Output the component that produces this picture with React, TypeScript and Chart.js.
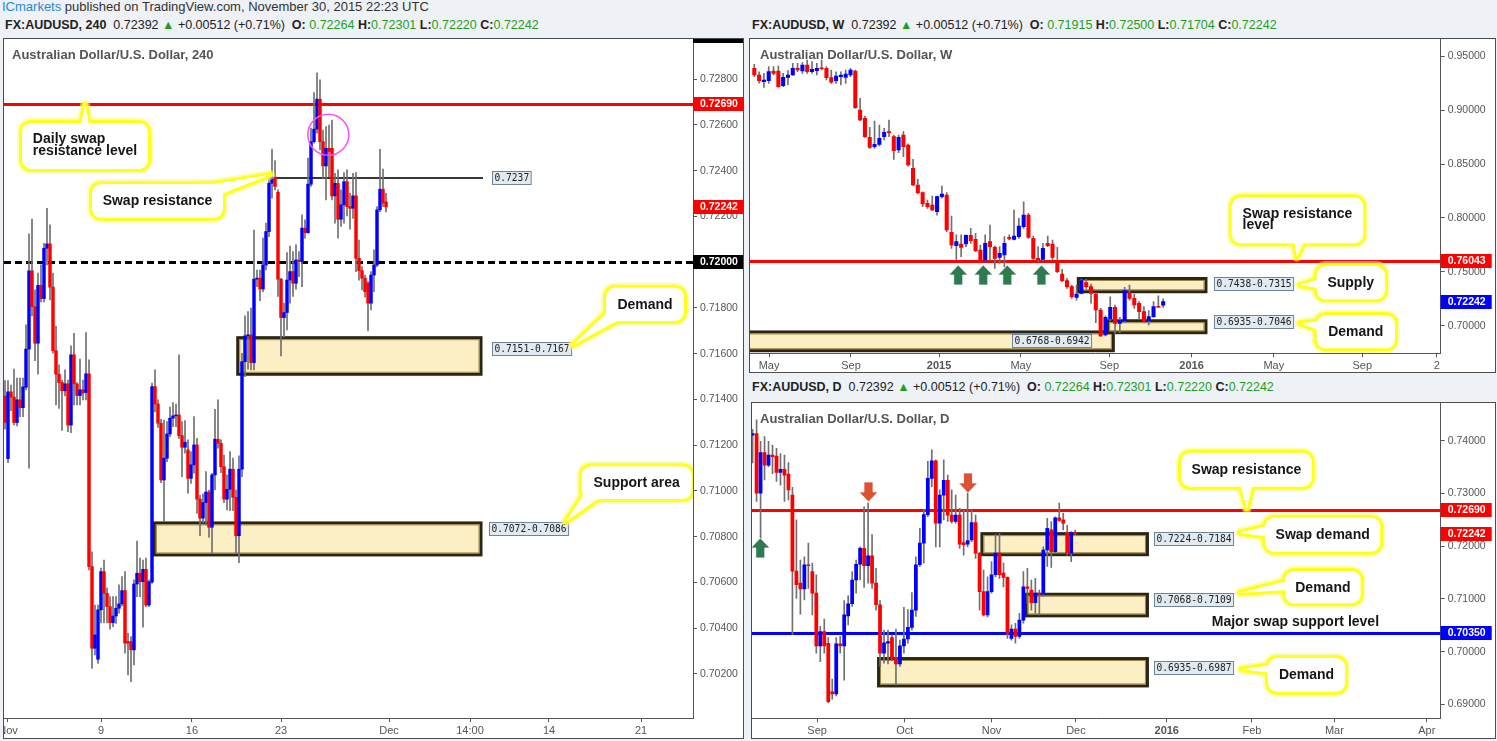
import React, { useEffect, useRef } from 'react';
import { Chart, registerables } from 'chart.js';

Chart.register(...registerables);

const UP = '#0000ff';
const DOWN = '#ff0000';
const WICK = '#707070';
const AXIS = '#555555';
const FONT = "'Liberation Sans', Arial, sans-serif";
const GREEN = '#1f9f1f';

// ---------------- 4h (240) data ----------------
const H4_OPEN = [0.71415,0.71141,0.71433,0.71410,0.71299,0.71398,0.71364,0.71453,0.71620,0.71962,
 0.71806,0.71646,0.71899,0.71841,0.72061,0.72080,0.71891,0.71613,0.71510,0.71474,
 0.71438,0.71468,0.71288,0.71595,0.71468,0.71417,0.71442,0.71430,0.71512,0.70669,
 0.70312,0.70264,0.70480,0.70647,0.70552,0.70494,0.70424,0.70453,0.70487,0.70506,
 0.70564,0.70341,0.70341,0.70305,0.70593,0.70640,0.70603,0.70657,0.70501,0.70601,
 0.71456,0.71380,0.71296,0.71048,0.71143,0.71249,0.71318,0.71328,0.71332,0.71242,
 0.71191,0.71179,0.71055,0.71114,0.71201,0.70964,0.70881,0.70949,0.70995,0.70841,
 0.71070,0.71226,0.71208,0.71106,0.70964,0.71007,0.71095,0.70972,0.70804,0.71095,
 0.71565,0.71678,0.71682,0.71561,0.71926,0.71930,0.71883,0.71988,0.72134,0.72345,
 0.72372,0.72306,0.71926,0.71758,0.71780,0.71922,0.71959,0.71908,0.72010,0.72003,
 0.72149,0.72129,0.72341,0.72527,0.72582,0.72713,0.72527,0.72421,0.72498,0.72498,
 0.72290,0.72345,0.72188,0.72251,0.72352,0.72243,0.72236,0.72290,0.72017,0.71963,
 0.71930,0.71908,0.71821,0.71944,0.71988,0.72229,0.72319,0.72264];
const H4_HIGH = [0.71482,0.71482,0.71463,0.71533,0.71493,0.71493,0.71493,0.71726,0.72124,0.72189,
 0.71879,0.71952,0.71988,0.72083,0.72236,0.72163,0.71952,0.71721,0.71551,0.71485,
 0.71529,0.71485,0.71634,0.71689,0.71474,0.71576,0.71485,0.71692,0.71573,0.70734,
 0.70501,0.70501,0.70663,0.70698,0.70576,0.70538,0.70538,0.70538,0.70589,0.70625,
 0.70647,0.70378,0.70363,0.70611,0.70781,0.70706,0.70698,0.70706,0.70611,0.71471,
 0.71529,0.71398,0.71313,0.71310,0.71303,0.71366,0.71386,0.71380,0.71595,0.71303,
 0.71307,0.71223,0.71172,0.71325,0.71230,0.70982,0.70987,0.71084,0.71004,0.71077,
 0.71357,0.71398,0.71223,0.71157,0.71070,0.71172,0.71143,0.71004,0.71153,0.71602,
 0.71765,0.71784,0.71799,0.72141,0.71966,0.71966,0.72105,0.72171,0.72367,0.72494,
 0.72444,0.72316,0.71930,0.71821,0.72042,0.72071,0.72046,0.72076,0.72046,0.72207,
 0.72185,0.72455,0.72586,0.72742,0.72828,0.72797,0.72578,0.72593,0.72600,0.72622,
 0.72389,0.72404,0.72316,0.72392,0.72404,0.72302,0.72389,0.72392,0.72097,0.71981,
 0.71944,0.71915,0.71959,0.72054,0.72243,0.72494,0.72407,0.72301];
const H4_LOW = [0.71270,0.71124,0.71351,0.71289,0.71284,0.71325,0.71325,0.71442,0.71099,0.71765,
 0.71570,0.71510,0.71826,0.71826,0.71988,0.71835,0.71602,0.71376,0.71361,0.71264,
 0.71415,0.71259,0.71255,0.71376,0.71376,0.71376,0.71398,0.71398,0.70654,0.70224,
 0.70283,0.70246,0.70423,0.70423,0.70423,0.70395,0.70406,0.70421,0.70465,0.70497,
 0.70290,0.70195,0.70166,0.70239,0.70538,0.70538,0.70404,0.70494,0.70494,0.70596,
 0.71345,0.71278,0.71036,0.70866,0.71128,0.71237,0.71281,0.71281,0.71230,0.71062,
 0.71165,0.70990,0.71033,0.71077,0.70902,0.70804,0.70859,0.70851,0.70797,0.70727,
 0.71004,0.71187,0.71080,0.70949,0.70917,0.70914,0.70914,0.70727,0.70686,0.71062,
 0.71500,0.71532,0.71529,0.71529,0.71893,0.71832,0.71871,0.71966,0.72112,0.72280,
 0.72316,0.71850,0.71590,0.71672,0.71704,0.71821,0.71850,0.71882,0.71937,0.71893,
 0.72105,0.72127,0.72331,0.72520,0.72564,0.72491,0.72367,0.72272,0.72374,0.72272,
 0.72171,0.72105,0.72156,0.72171,0.72202,0.72144,0.72192,0.71959,0.71922,0.71879,
 0.71847,0.71701,0.71791,0.71871,0.71981,0.72221,0.72243,0.72220];
const H4_CLOSE = [0.71299,0.71433,0.71410,0.71299,0.71398,0.71364,0.71455,0.71620,0.71962,0.71806,
 0.71646,0.71899,0.71841,0.72061,0.72080,0.71891,0.71613,0.71510,0.71474,0.71438,
 0.71468,0.71288,0.71595,0.71468,0.71417,0.71442,0.71428,0.71512,0.70669,0.70312,
 0.70370,0.70480,0.70647,0.70552,0.70494,0.70424,0.70453,0.70487,0.70506,0.70564,
 0.70334,0.70334,0.70305,0.70593,0.70640,0.70603,0.70657,0.70501,0.70603,0.71456,
 0.71380,0.71296,0.71048,0.71143,0.71249,0.71318,0.71328,0.71332,0.71242,0.71191,
 0.71213,0.71055,0.71114,0.71201,0.70964,0.70881,0.70949,0.70995,0.70841,0.71070,
 0.71226,0.71208,0.71106,0.70964,0.71007,0.71095,0.70972,0.70804,0.71095,0.71565,
 0.71678,0.71682,0.71561,0.71926,0.71930,0.71883,0.71988,0.72134,0.72345,0.72372,
 0.72331,0.71926,0.71758,0.71780,0.71922,0.71959,0.71908,0.72010,0.72003,0.72149,
 0.72129,0.72341,0.72527,0.72582,0.72713,0.72527,0.72421,0.72498,0.72484,0.72290,
 0.72345,0.72188,0.72251,0.72352,0.72243,0.72236,0.72290,0.72017,0.71963,0.71930,
 0.71871,0.71821,0.71944,0.71988,0.72229,0.72319,0.72258,0.72242];
const H4_TICK_POS = [1, 32, 62.33, 92, 128, 155, 181.33, 212];
const H4_TICK_LABELS = ['Nov', '9', '16', '23', 'Dec', '14:00', '14', '21'];
const H4_PRICE_TICKS = [0.702, 0.704, 0.706, 0.708, 0.710, 0.712, 0.714, 0.716, 0.718, 0.720, 0.722, 0.724, 0.726, 0.728];

// ---------------- Weekly data ----------------
const W_OPEN = [0.9387,0.9326,0.9264,0.9273,0.9363,0.9363,0.9227,0.9304,0.9326,0.9387,
 0.9363,0.9418,0.9357,0.9366,0.9387,0.9387,0.9301,0.9273,0.9310,0.9304,
 0.9326,0.9363,0.9001,0.8924,0.8747,0.8661,0.8682,0.8754,0.8800,0.8754,
 0.8630,0.8769,0.8676,0.8460,0.8305,0.8234,0.8135,0.8120,0.8057,0.8197,
 0.8212,0.7866,0.7742,0.7758,0.7758,0.7838,0.7801,0.7702,0.7609,0.7780,
 0.7727,0.7634,0.7656,0.7820,0.7801,0.7826,0.7918,0.8026,0.7810,0.7625,
 0.7616,0.7764,0.7758,0.7603,0.7480,0.7418,0.7362,0.7263,0.7300,0.7399,
 0.7362,0.7294,0.7146,0.6914,0.7062,0.7170,0.7022,0.7047,0.7306,0.7254,
 0.7208,0.7130,0.7047,0.7084,0.7177,0.71915];
const W_HIGH = [0.9424,0.9356,0.9341,0.9403,0.9403,0.9409,0.9341,0.9366,0.9434,0.9434,
 0.9440,0.9465,0.9449,0.9434,0.9465,0.9403,0.9372,0.9356,0.9356,0.9372,
 0.9387,0.9372,0.9109,0.8945,0.8840,0.8899,0.8862,0.8831,0.8908,0.8769,
 0.8769,0.8800,0.8686,0.8543,0.8358,0.8243,0.8166,0.8203,0.8203,0.8296,
 0.8234,0.8017,0.7842,0.7842,0.7842,0.7903,0.7857,0.7749,0.7842,0.7934,
 0.7739,0.7733,0.7826,0.7842,0.8073,0.7996,0.8150,0.8042,0.7832,0.7733,
 0.7764,0.7832,0.7795,0.7727,0.7523,0.7439,0.7378,0.7378,0.7430,0.7430,
 0.7387,0.7306,0.7161,0.7091,0.7269,0.7192,0.7078,0.7356,0.7378,0.7294,
 0.7223,0.7177,0.7140,0.7223,0.7276,0.72500];
const W_LOW = [0.9310,0.9250,0.9211,0.9248,0.9326,0.9211,0.9217,0.9233,0.9319,0.9356,
 0.9341,0.9341,0.9341,0.9326,0.9372,0.9279,0.9248,0.9248,0.9233,0.9248,
 0.9310,0.9016,0.8902,0.8747,0.8645,0.8645,0.8667,0.8723,0.8754,0.8543,
 0.8605,0.8568,0.8481,0.8299,0.8222,0.8104,0.8089,0.8067,0.8026,0.8182,
 0.7872,0.7718,0.7616,0.7640,0.7733,0.7764,0.7687,0.7594,0.7603,0.7609,
 0.7532,0.7578,0.7548,0.7795,0.7795,0.7810,0.7903,0.7810,0.7616,0.7594,
 0.7603,0.7733,0.7610,0.7492,0.7409,0.7347,0.7254,0.7238,0.7294,0.7347,
 0.7208,0.7028,0.6898,0.6905,0.7047,0.6929,0.6935,0.7028,0.7238,0.7161,
 0.7059,0.7028,0.7007,0.7077,0.7170,0.71704];
const W_CLOSE = [0.9326,0.9273,0.9279,0.9357,0.9341,0.9217,0.9304,0.9326,0.9387,0.9372,
 0.9418,0.9357,0.9378,0.9387,0.9384,0.9301,0.9258,0.9316,0.9326,0.9335,
 0.9372,0.9023,0.8908,0.8753,0.8655,0.8682,0.8738,0.8794,0.8791,0.8624,
 0.8747,0.8661,0.8491,0.8305,0.8234,0.8129,0.8104,0.8073,0.8197,0.8222,
 0.7888,0.7749,0.7780,0.7727,0.7838,0.7789,0.7696,0.7603,0.7764,0.7733,
 0.7625,0.7671,0.7764,0.7804,0.7832,0.7925,0.8026,0.7820,0.7625,0.7610,
 0.7718,0.7742,0.7634,0.7501,0.7418,0.7362,0.7269,0.7294,0.7418,0.7362,
 0.7300,0.7146,0.6905,0.7078,0.7170,0.7022,0.7047,0.7325,0.7254,0.7192,
 0.7130,0.7047,0.7084,0.7177,0.7171,0.72242];
const W_TICK_POS = [3.06, 20.1, 38.4, 55.4, 73.8, 90.9, 108.0, 126.4, 141.9];
const W_TICK_LABELS = ['May', 'Sep', '2015', 'May', 'Sep', '2016', 'May', 'Sep', '2'];
const W_PRICE_TICKS = [0.70, 0.75, 0.80, 0.85, 0.90, 0.95];

// ---------------- Daily data ----------------
const D_OPEN = [0.7411,0.7414,0.7301,0.7378,0.7354,0.7373,0.7371,0.7340,0.7346,0.7337,
 0.7297,0.7153,0.7130,0.7119,0.7165,0.7152,0.7111,0.7011,0.7038,0.7016,
 0.6924,0.6920,0.7015,0.7011,0.7068,0.7091,0.7136,0.7166,0.7196,0.7163,
 0.7182,0.7130,0.7089,0.6997,0.7016,0.7027,0.6987,0.6977,0.7011,0.7024,
 0.7046,0.7079,0.7165,0.7206,0.7260,0.7329,0.7362,0.7244,0.7297,0.7325,
 0.7259,0.7247,0.7259,0.7207,0.7204,0.7212,0.7245,0.7187,0.7114,0.7070,
 0.7114,0.7146,0.7187,0.7149,0.7141,0.7025,0.7043,0.7029,0.7060,0.7123,
 0.7117,0.7093,0.7111,0.7109,0.7193,0.7231,0.7190,0.7254,0.7250,0.7226,
 0.7187,0.72264];
const D_HIGH = [0.7422,0.7440,0.7399,0.7408,0.7399,0.7392,0.7386,0.7376,0.7373,0.7359,
 0.7312,0.7250,0.7174,0.7180,0.7206,0.7168,0.7146,0.7048,0.7062,0.7027,
 0.6948,0.7027,0.7029,0.7097,0.7106,0.7152,0.7174,0.7199,0.7275,0.7282,
 0.7222,0.7158,0.7097,0.7041,0.7041,0.7032,0.7043,0.7022,0.7084,0.7080,
 0.7112,0.7180,0.7234,0.7269,0.7361,0.7383,0.7364,0.7307,0.7364,0.7335,
 0.7307,0.7297,0.7272,0.7269,0.7307,0.7269,0.7259,0.7188,0.7155,0.7142,
 0.7171,0.7222,0.7224,0.7168,0.7142,0.7051,0.7054,0.7073,0.7152,0.7158,
 0.7136,0.7139,0.7117,0.7199,0.7253,0.7247,0.7256,0.7282,0.7263,0.7240,
 0.7228,0.72301];
const D_LOW = [0.7358,0.7285,0.7215,0.7326,0.7351,0.7338,0.7323,0.7316,0.7285,0.7288,
 0.7032,0.7101,0.7071,0.7098,0.7120,0.7070,0.6997,0.6981,0.6997,0.6903,
 0.6910,0.6916,0.6997,0.6946,0.7051,0.7086,0.7111,0.7136,0.7122,0.7130,
 0.7120,0.7079,0.6972,0.6978,0.6977,0.6983,0.6937,0.6972,0.6997,0.7016,
 0.7041,0.7067,0.7162,0.7168,0.7256,0.7313,0.7199,0.7199,0.7250,0.7247,
 0.7244,0.7244,0.7196,0.7183,0.7199,0.7209,0.7177,0.7079,0.7068,0.7066,
 0.7111,0.7142,0.7139,0.7123,0.7025,0.7022,0.7016,0.7025,0.7054,0.7092,
 0.7079,0.7073,0.7070,0.7105,0.7162,0.7160,0.7188,0.7247,0.7231,0.7183,
 0.7171,0.72220];
const D_CLOSE = [0.7414,0.7301,0.7378,0.7354,0.7373,0.7370,0.7340,0.7346,0.7335,0.7307,
 0.7153,0.7127,0.7119,0.7165,0.7163,0.7111,0.7011,0.7038,0.7011,0.6905,
 0.6920,0.7015,0.7011,0.7070,0.7091,0.7136,0.7166,0.7196,0.7163,0.7182,
 0.7130,0.7089,0.6997,0.7017,0.7019,0.6987,0.6977,0.7011,0.7024,0.7046,
 0.7079,0.7165,0.7206,0.7260,0.7329,0.7362,0.7244,0.7297,0.7325,0.7259,
 0.7247,0.7259,0.7204,0.7203,0.7211,0.7245,0.7187,0.7114,0.7070,0.7114,
 0.7146,0.7187,0.7146,0.7141,0.7035,0.7043,0.7029,0.7060,0.7123,0.7120,
 0.7093,0.7111,0.7109,0.7193,0.7234,0.7190,0.7254,0.7249,0.7244,0.7187,
 0.7226,0.72242];
const D_TICK_POS = [16.2, 38.2, 60, 81.2, 104, 125.4, 146.1, 169.3];
const D_TICK_LABELS = ['Sep', 'Oct', 'Nov', 'Dec', '2016', 'Feb', 'Mar', 'Apr'];
const D_PRICE_TICKS = [0.69, 0.70, 0.71, 0.72, 0.73, 0.74];

// ---------------- annotations ----------------
type Callout = { lines: string[]; x1: number; x2: number; top: number; bottom: number; tipX: number; tipY: number; base: number[][] };

const H4_ANN = {
  title: 'Australian Dollar/U.S. Dollar, 240', titleX: 8,
  zones: [
    { x1: 77.57, x2: 158.67, lo: 0.7151, hi: 0.7167 },
    { x1: 49.77, x2: 158.67, lo: 0.7072, hi: 0.7086 },
  ],
  lines: [
    { value: 0.7269, color: '#ff0000', width: 3 },
    { value: 0.72, color: '#000000', width: 3, dash: [7, 4] },
    { value: 0.7237, color: '#383838', width: 2, x1: 85.67, x2: 159.33 },
  ],
  labels: [
    { x: 162.23, y: 0.7237, text: '0.7237' },
    { x: 162.23, y: 0.71622, text: '0.7151-0.7167' },
    { x: 161.33, y: 0.70836, text: '0.7072-0.7086' },
  ],
  callouts: [
    { lines: ['Daily swap', 'resistance level'], x1: 5.67, x2: 47.67, top: 0.72609, bottom: 0.72408, tipX: 26.67, tipY: 0.72688, base: [[0.44, 0], [0.56, 0]] },
    { lines: ['Swap resistance'], x1: 29, x2: 72.67, top: 0.72342, bottom: 0.72194, tipX: 88.33, tipY: 0.72382, base: [[0.86, 0], [1, 0.35]] },
    { lines: ['Demand'], x1: 200.33, x2: 226.33, top: 0.71888, bottom: 0.71743, tipX: 189.43, tipY: 0.71639, base: [[0, 0.55], [0.15, 1]] },
    { lines: ['Support area'], x1: 192.23, x2: 228.9, top: 0.71108, bottom: 0.70965, tipX: 187, tipY: 0.70867, base: [[0, 0.6], [0.12, 1]] },
  ] as Callout[],
  arrows: [] as any[],
  circles: [{ x: 107.77, y: 0.72557, r: 20.5, color: '#ff4dff' }],
  texts: [] as any[],
  tags: [
    { value: 0.7269, bg: '#ff0000' },
    { value: 0.72242, bg: '#ff0000' },
    { value: 0.72, bg: '#000000' },
  ],
  topBar: true,
};

const W_ANN = {
  title: 'Australian Dollar/U.S. Dollar, W', titleX: 10,
  zones: [
    { x1: -3, x2: 74.64, lo: 0.6768, hi: 0.6942 },
    { x1: 67.36, x2: 93.9, lo: 0.7315, hi: 0.7438 },
    { x1: 73.47, x2: 93.9, lo: 0.6935, hi: 0.7046 },
  ],
  lines: [{ value: 0.76043, color: '#ff0000', width: 3 }],
  labels: [
    { x: 95.57, y: 0.73896, text: '0.7438-0.7315' },
    { x: 95.57, y: 0.70417, text: '0.6935-0.7046' },
    { x: 53.51, y: 0.68599, text: '0.6768-0.6942' },
  ],
  callouts: [
    { lines: ['Swap resistance', 'level'], x1: 99.25, x2: 126.6, top: 0.81911, bottom: 0.77644, tipX: 112.8, tipY: 0.76401, base: [[0.45, 1], [0.6, 1]] },
    { lines: ['Supply'], x1: 116.9, x2: 131.1, top: 0.75538, bottom: 0.72449, tipX: 113.4, tipY: 0.73776, base: [[0, 0.3], [0, 0.75]] },
    { lines: ['Demand'], x1: 116.9, x2: 133.2, top: 0.70993, bottom: 0.67903, tipX: 113.4, tipY: 0.70223, base: [[0, 0.1], [0, 0.5]] },
  ] as Callout[],
  arrows: [
    { x: 42.4, y: 0.75631, dir: 'up', color: '#2e7b4f' },
    { x: 47.6, y: 0.75631, dir: 'up', color: '#2e7b4f' },
    { x: 52.6, y: 0.75631, dir: 'up', color: '#2e7b4f' },
    { x: 59.7, y: 0.75631, dir: 'up', color: '#2e7b4f' },
  ],
  circles: [] as any[],
  texts: [] as any[],
  tags: [
    { value: 0.76043, bg: '#ff0000' },
    { value: 0.72242, bg: '#0000ff' },
  ],
  topBar: false,
};

const D_ANN = {
  title: 'Australian Dollar/U.S. Dollar, D', titleX: 8,
  zones: [
    { x1: 57.58, x2: 99.15, lo: 0.7184, hi: 0.7224 },
    { x1: 68.7, x2: 99.15, lo: 0.7068, hi: 0.7109 },
    { x1: 31.63, x2: 99.15, lo: 0.6935, hi: 0.6987 },
  ],
  lines: [
    { value: 0.7269, color: '#ff0000', width: 3 },
    { value: 0.7035, color: '#0000ff', width: 3 },
  ],
  labels: [
    { x: 100.9, y: 0.72152, text: '0.7224-0.7184' },
    { x: 100.9, y: 0.7099, text: '0.7068-0.7109' },
    { x: 100.9, y: 0.6970, text: '0.6935-0.6987' },
  ],
  callouts: [
    { lines: ['Swap resistance'], x1: 107.6, x2: 140.4, top: 0.73776, bottom: 0.73131, tipX: 124.1, tipY: 0.72721, base: [[0.41, 1], [0.59, 1]] },
    { lines: ['Swap demand'], x1: 128.7, x2: 157.6, top: 0.72543, bottom: 0.71898, tipX: 122.4, tipY: 0.72258, base: [[0, 0.15], [0, 0.6]] },
    { lines: ['Demand'], x1: 133.7, x2: 152.7, top: 0.71531, bottom: 0.70918, tipX: 122.4, tipY: 0.7112, base: [[0, 0.2], [0, 0.6]] },
    { lines: ['Demand'], x1: 129.4, x2: 148.8, top: 0.6988, bottom: 0.6924, tipX: 122.8, tipY: 0.69666, base: [[0, 0.12], [0, 0.45]] },
  ] as Callout[],
  arrows: [
    { x: 1.93, y: 0.72158, dir: 'up', color: '#2e7b4f' },
    { x: 29.1, y: 0.72841, dir: 'down', color: '#dc5236' },
    { x: 54.1, y: 0.73011, dir: 'down', color: '#dc5236' },
  ],
  circles: [] as any[],
  texts: [{ x: 115.3, y: 0.70558, text: 'Major swap support level' }],
  tags: [
    { value: 0.7269, bg: '#ff0000' },
    { value: 0.72242, bg: '#ff0000' },
    { value: 0.7035, bg: '#0000ff' },
  ],
  topBar: false,
};

// ---------------- drawing helpers ----------------
function roundRectPath(ctx: CanvasRenderingContext2D, x: number, y: number, w: number, h: number, r: number) {
  ctx.moveTo(x + r, y);
  ctx.lineTo(x + w - r, y);
  ctx.arcTo(x + w, y, x + w, y + r, r);
  ctx.lineTo(x + w, y + h - r);
  ctx.arcTo(x + w, y + h, x + w - r, y + h, r);
  ctx.lineTo(x + r, y + h);
  ctx.arcTo(x, y + h, x, y + h - r, r);
  ctx.lineTo(x, y + r);
  ctx.arcTo(x, y, x + r, y, r);
  ctx.closePath();
}

function drawCallout(ctx: CanvasRenderingContext2D, X: (v: number) => number, Y: (v: number) => number, c: Callout) {
  const x1 = X(c.x1), x2 = X(c.x2), y1 = Y(c.top), y2 = Y(c.bottom);
  const w = x2 - x1, h = y2 - y1;
  const cx = (x1 + x2) / 2, cy = (y1 + y2) / 2;
  const tx = X(c.tipX), ty = Y(c.tipY);
  const base = c.base.map(([fx, fy]) => {
    const px = x1 + fx * w, py = y1 + fy * h;
    const dx = cx - px, dy = cy - py, d = Math.hypot(dx, dy) || 1;
    return [px + (dx / d) * 8, py + (dy / d) * 8];
  });
  const tri = () => {
    ctx.beginPath();
    ctx.moveTo(base[0][0], base[0][1]);
    ctx.lineTo(tx, ty);
    ctx.lineTo(base[1][0], base[1][1]);
    ctx.closePath();
  };
  const box = () => { ctx.beginPath(); roundRectPath(ctx, x1, y1, w, h, 9); };
  ctx.save();
  ctx.lineJoin = 'round';
  for (const [lw, col] of [[10, 'rgba(250,250,130,0.55)'], [6, '#ffff1a']] as [number, string][]) {
    ctx.lineWidth = lw; ctx.strokeStyle = col;
    box(); ctx.stroke();
    tri(); ctx.stroke();
  }
  ctx.fillStyle = '#ffffff';
  box(); ctx.fill();
  tri(); ctx.fill();
  ctx.fillStyle = '#161616';
  ctx.font = `bold 14px ${FONT}`;
  ctx.textBaseline = 'middle';
  ctx.textAlign = 'left';
  const widths = c.lines.map((l) => ctx.measureText(l).width);
  const bw = Math.max(...widths);
  const left = cx - bw / 2;
  if (c.lines.length === 1) {
    ctx.fillText(c.lines[0], left, cy + 0.5);
  } else {
    ctx.fillText(c.lines[0], left, cy - 6.5);
    ctx.fillText(c.lines[1], left, cy + 5);
  }
  ctx.restore();
}

function drawArrow(ctx: CanvasRenderingContext2D, x: number, y: number, dir: string, color: string) {
  const hw = 9.5, hh = 10, sw = 4.5, h = 20;
  const s = dir === 'up' ? 1 : -1;
  ctx.save();
  ctx.beginPath();
  ctx.moveTo(x, y);
  ctx.lineTo(x + hw, y + s * hh);
  ctx.lineTo(x + sw, y + s * hh);
  ctx.lineTo(x + sw, y + s * h);
  ctx.lineTo(x - sw, y + s * h);
  ctx.lineTo(x - sw, y + s * hh);
  ctx.lineTo(x - hw, y + s * hh);
  ctx.closePath();
  ctx.fillStyle = color;
  ctx.fill();
  ctx.strokeStyle = 'rgba(255,255,255,0.75)';
  ctx.lineWidth = 1;
  ctx.stroke();
  ctx.restore();
}

function makeOverlay(ann: any) {
  const scalesOf = (chart: any) => {
    const X = (v: number) => chart.scales.x.getPixelForValue(v);
    const Y = (v: number) => chart.scales.y.getPixelForValue(v);
    return { X, Y };
  };
  return {
    id: 'overlay',
    beforeDatasetsDraw(chart: any) {
      const { ctx, chartArea: a } = chart;
      const { X, Y } = scalesOf(chart);
      ctx.save();
      ctx.beginPath();
      ctx.rect(a.left, a.top, a.right - a.left, a.bottom - a.top);
      ctx.clip();
      for (const z of ann.zones) {
        const x1 = X(z.x1), x2 = X(z.x2), yt = Y(z.hi), yb = Y(z.lo);
        ctx.fillStyle = '#fdefc4';
        ctx.fillRect(x1, yt, x2 - x1, yb - yt);
        ctx.lineWidth = 3;
        ctx.strokeStyle = '#2b2512';
        ctx.strokeRect(x1, yt, x2 - x1, yb - yt);
        ctx.lineWidth = 1;
        ctx.strokeStyle = '#9a8447';
        ctx.strokeRect(x1 + 2, yt + 2, x2 - x1 - 4, yb - yt - 4);
      }
      for (const l of ann.lines) {
        const yy = Math.round(Y(l.value)) + (l.width % 2 ? 0.5 : 0);
        ctx.beginPath();
        ctx.setLineDash(l.dash || []);
        ctx.strokeStyle = l.color;
        ctx.lineWidth = l.width;
        ctx.moveTo(l.x1 === undefined ? a.left : X(l.x1), yy);
        ctx.lineTo(l.x2 === undefined ? a.right : X(l.x2), yy);
        ctx.stroke();
      }
      ctx.restore();
    },
    afterDatasetsDraw(chart: any) {
      const { ctx, chartArea: a } = chart;
      const { X, Y } = scalesOf(chart);
      ctx.save();
      ctx.beginPath();
      ctx.rect(a.left, a.top, a.right - a.left, a.bottom - a.top);
      ctx.clip();
      ctx.font = `bold 13px ${FONT}`;
      ctx.fillStyle = '#555555';
      ctx.textBaseline = 'middle';
      ctx.textAlign = 'left';
      ctx.fillText(ann.title, a.left + ann.titleX, a.top + 16);
      for (const c of ann.circles) {
        ctx.beginPath();
        ctx.arc(X(c.x), Y(c.y), c.r, 0, Math.PI * 2);
        ctx.strokeStyle = c.color;
        ctx.lineWidth = 1.5;
        ctx.stroke();
      }
      for (const ar of ann.arrows) drawArrow(ctx, X(ar.x), Y(ar.y), ar.dir, ar.color);
      for (const l of ann.labels) {
        ctx.font = `9.6px 'DejaVu Sans Mono', monospace`;
        const tw = ctx.measureText(l.text).width;
        const bx = Math.round(X(l.x)) + 0.5;
        const by = Math.round(Y(l.y) - 6.5) + 0.5;
        ctx.fillStyle = '#e1eaf1';
        ctx.fillRect(bx, by, tw + 4, 13);
        ctx.strokeStyle = '#6f8596';
        ctx.lineWidth = 1;
        ctx.strokeRect(bx, by, tw + 4, 13);
        ctx.fillStyle = '#222222';
        ctx.textBaseline = 'middle';
        ctx.fillText(l.text, bx + 2, by + 7);
      }
      for (const t of ann.texts) {
        ctx.font = `bold 14px ${FONT}`;
        ctx.fillStyle = '#161616';
        ctx.textBaseline = 'middle';
        ctx.fillText(t.text, X(t.x), Y(t.y));
      }
      for (const c of ann.callouts) drawCallout(ctx, X, Y, c);
      ctx.restore();
    },
    afterDraw(chart: any) {
      const { ctx, chartArea: a } = chart;
      const { Y } = scalesOf(chart);
      const w = Math.min(chart.width - a.right, 51);
      ctx.save();
      if (ann.topBar) {
        ctx.fillStyle = '#000';
        ctx.fillRect(a.right, 0, w, 4);
      }
      for (const t of ann.tags) {
        const yy = Math.round(Y(t.value));
        ctx.fillStyle = t.bg;
        ctx.fillRect(a.right, yy - 7, w, 14);
        ctx.fillStyle = '#ffffff';
        ctx.font = `bold 10.5px ${FONT}`;
        ctx.textBaseline = 'middle';
        ctx.textAlign = 'left';
        ctx.fillText(t.value.toFixed(5), a.right + 7, yy + 0.5);
      }
      ctx.restore();
    },
  };
}

type PanelCfg = {
  open: number[]; high: number[]; low: number[]; close: number[];
  xMin: number; xMax: number; yMin: number; yMax: number;
  xTicks: number[]; xLabels: string[]; yTicks: number[];
  yAxisWidth: number; xAxisHeight: number; bodyWidth: number; ann: any;
};

function buildConfig(cfg: PanelCfg): any {
  const idx = cfg.open.map((_, i) => i);
  const wick = idx.map((i) => ({ x: i, y: [cfg.low[i], cfg.high[i]] }));
  const body = idx.map((i) => ({ x: i, y: [cfg.open[i], cfg.close[i]] }));
  const colors = idx.map((i) => (cfg.close[i] >= cfg.open[i] ? UP : DOWN));
  return {
    type: 'bar',
    data: {
      datasets: [
        { data: body, backgroundColor: colors, barThickness: cfg.bodyWidth, grouped: false, order: 1, minBarLength: 1, borderWidth: 0 },
        { data: wick, backgroundColor: WICK, barThickness: 1, grouped: false, order: 2, borderWidth: 0 },
      ],
    },
    options: {
      responsive: false,
      animation: false,
      devicePixelRatio: 1,
      events: [],
      layout: { padding: 0 },
      plugins: { legend: { display: false }, tooltip: { enabled: false }, title: { display: false } },
      scales: {
        x: {
          type: 'linear',
          min: cfg.xMin,
          max: cfg.xMax,
          offset: false,
          afterBuildTicks: (s: any) => { s.ticks = cfg.xTicks.map((v) => ({ value: v })); },
          afterFit: (s: any) => { s.height = cfg.xAxisHeight; s.paddingLeft = 0; s.paddingRight = 0; },
          ticks: {
            autoSkip: false,
            maxRotation: 0,
            minRotation: 0,
            padding: 2,
            color: AXIS,
            font: (c: any) => ({ family: FONT, size: 11, weight: /^\d{4}$/.test(cfg.xLabels[c.index] || '') ? 'bold' : 'normal' }),
            callback: (_v: any, i: number) => cfg.xLabels[i],
          },
          grid: { offset: false, drawOnChartArea: false, drawTicks: true, tickLength: 4, color: AXIS },
          border: { color: AXIS, width: 1 },
        },
        y: {
          type: 'linear',
          position: 'right',
          min: cfg.yMin,
          max: cfg.yMax,
          afterBuildTicks: (s: any) => { s.ticks = cfg.yTicks.map((v) => ({ value: v })); },
          afterFit: (s: any) => { s.width = cfg.yAxisWidth; s.paddingTop = 0; s.paddingBottom = 0; },
          ticks: {
            autoSkip: false,
            padding: 3,
            color: AXIS,
            font: { family: FONT, size: 10.5 },
            callback: (v: any) => Number(v).toFixed(5),
          },
          grid: { drawOnChartArea: false, drawTicks: true, tickLength: 4, color: AXIS },
          border: { color: AXIS, width: 1 },
        },
      },
    },
    plugins: [makeOverlay(cfg.ann)],
  };
}

const H4_CFG: PanelCfg = {
  open: H4_OPEN, high: H4_HIGH, low: H4_LOW, close: H4_CLOSE,
  xMin: -0.333, xMax: 229.33, yMin: 0.70007, yMax: 0.72976,
  xTicks: H4_TICK_POS, xLabels: H4_TICK_LABELS, yTicks: H4_PRICE_TICKS,
  yAxisWidth: 50, xAxisHeight: 20, bodyWidth: 2.8, ann: H4_ANN,
};
const W_CFG: PanelCfg = {
  open: W_OPEN, high: W_HIGH, low: W_LOW, close: W_CLOSE,
  xMin: -0.894, xMax: 142.7, yMin: 0.6744, yMax: 0.96596,
  xTicks: W_TICK_POS, xLabels: W_TICK_LABELS, yTicks: W_PRICE_TICKS,
  yAxisWidth: 54.3, xAxisHeight: 18.7, bodyWidth: 3.4, ann: W_ANN,
};
const D_CFG: PanelCfg = {
  open: D_OPEN, high: D_HIGH, low: D_LOW, close: D_CLOSE,
  xMin: -0.15, xMax: 172.79, yMin: 0.68736, yMax: 0.74719,
  xTicks: D_TICK_POS, xLabels: D_TICK_LABELS, yTicks: D_PRICE_TICKS,
  yAxisWidth: 54.3, xAxisHeight: 19.7, bodyWidth: 3.1, ann: D_ANN,
};

function Panel({ left, top, width, height, cfg }: { left: number; top: number; width: number; height: number; cfg: PanelCfg }) {
  const ref = useRef<HTMLCanvasElement>(null);
  useEffect(() => {
    const chart = new Chart(ref.current as HTMLCanvasElement, buildConfig(cfg));
    return () => chart.destroy();
  }, [cfg]);
  const w = width - 2, h = height - 2;
  return (
    <div style={{ position: 'absolute', left, top, width, height, boxSizing: 'border-box', border: '1px solid #4d4d4d', background: '#ffffff' }}>
      <canvas ref={ref} width={w} height={h} style={{ display: 'block', width: w, height: h }} />
    </div>
  );
}

function QuoteLine({ left, top, tf, o, h, l, c }: { left: number; top: number; tf: string; o: string; h: string; l: string; c: string }) {
  const g = { color: GREEN };
  return (
    <div style={{ position: 'absolute', left, top, fontSize: 12.5, lineHeight: '16px', whiteSpace: 'pre', color: '#222', fontFamily: FONT }}>
      <b>FX:AUDUSD, {tf}</b>{'  0.72392 '}<span style={g}>▲</span>{' +0.00512 (+0.71%)  '}
      <b>O:</b> <span style={g}>{o}</span> <b>H:</b><span style={g}>{h}</span> <b>L:</b><span style={g}>{l}</span> <b>C:</b><span style={g}>{c}</span>
    </div>
  );
}

export default function App() {
  return (
    <div style={{ position: 'fixed', left: 0, top: 0, width: 1497, height: 741, background: '#eef1f5', overflow: 'hidden', fontFamily: FONT }}>
      <div style={{ position: 'absolute', left: 2, top: -1, fontSize: 13, lineHeight: '15px', whiteSpace: 'pre', color: '#333' }}>
        <span style={{ color: '#1f8bd3' }}>ICmarkets</span>{' published on TradingView.com, November 30, 2015 22:23 UTC'}
      </div>
      <QuoteLine left={5} top={17} tf="240" o="0.72264" h="0.72301" l="0.72220" c="0.72242" />
      <QuoteLine left={752} top={17} tf="W" o="0.71915" h="0.72500" l="0.71704" c="0.72242" />
      <QuoteLine left={752} top={379} tf="D" o="0.72264" h="0.72301" l="0.72220" c="0.72242" />
      <Panel left={3} top={38} width={741} height={701} cfg={H4_CFG} />
      <Panel left={749} top={38} width={747} height={335} cfg={W_CFG} />
      <Panel left={751} top={402} width={745} height={337} cfg={D_CFG} />
    </div>
  );
}
